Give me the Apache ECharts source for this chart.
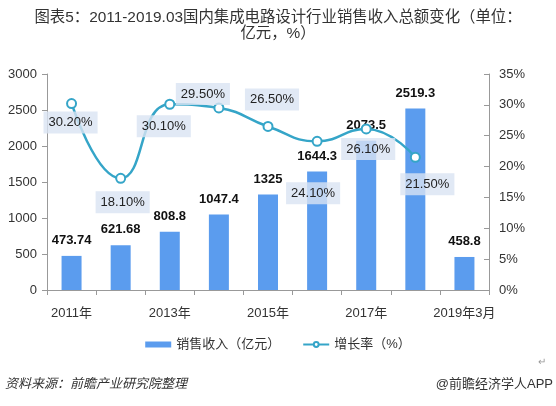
<!DOCTYPE html>
<html><head><meta charset="utf-8">
<script src="https://cdn.jsdelivr.net/npm/echarts@6/dist/echarts.min.js"></script>
<style>html,body{margin:0;padding:0;background:#fff;}#c{width:556px;height:406px;}</style>
</head><body><div id="c"></div>
<script>
var categories = ['2011年','2012年','2013年','2014年','2015年','2016年','2017年','2018年','2019年3月'];
var revenue = [473.74, 621.68, 808.8, 1047.4, 1325, 1644.3, 2073.5, 2519.3, 458.8];
var growth = [30.2, 18.1, 30.1, 29.5, 26.5, 24.1, 26.1, 21.5];
var leftTicks = [0, 500, 1000, 1500, 2000, 2500, 3000];
var rightTicks = [0, 5, 10, 15, 20, 25, 30, 35];
// label layout offsets (style only)
var rateLabelOffsets = [[-1,19],[2,24],[-6,22],[-16,-14],[4,-27],[-4,52],[2,20],[12,27]];

var FONT = '"Liberation Sans", "Noto Sans CJK SC", sans-serif';
var chart = echarts.init(document.getElementById('c'));
var rateData = growth.map(function(v, i){
  return {value: v, label: {offset: rateLabelOffsets[i]}};
});
chart.setOption({
  animation: false,
  textStyle: {fontFamily: FONT},
  grid: {left: 47, right: 67, top: 74, bottom: 116},
  legend: {
    bottom: 50, left: 'center', itemGap: 22, itemWidth: 26, itemHeight: 6,
    textStyle: {fontSize: 13, color: '#333'},
    data: [
      {name: '销售收入（亿元）', icon: 'rect'},
      {name: '增长率（%）'}
    ]
  },
  xAxis: {
    type: 'category', data: categories,
    axisLine: {lineStyle: {color: '#999'}},
    axisTick: {show: true, interval: 0, length: 5, lineStyle: {color: '#999'}},
    axisLabel: {interval: 1, fontSize: 13, color: '#333', margin: 17}
  },
  yAxis: [
    {type: 'value', min: leftTicks[0], max: leftTicks[leftTicks.length-1], interval: 500,
     axisLine: {show: true, lineStyle: {color: '#999'}},
     axisTick: {show: true, length: 5, lineStyle: {color: '#999'}},
     splitLine: {show: false},
     axisLabel: {fontSize: 13, color: '#333', margin: 10, formatter: function(v){ return String(v); }}},
    {type: 'value', min: rightTicks[0], max: rightTicks[rightTicks.length-1], interval: 5,
     axisLine: {show: true, lineStyle: {color: '#999'}},
     axisTick: {show: true, inside: true, length: 5, lineStyle: {color: '#999'}},
     splitLine: {show: false},
     axisLabel: {fontSize: 13, color: '#333', margin: 10, formatter: '{value}%'}}
  ],
  series: [
    {name: '销售收入（亿元）', type: 'bar', data: revenue, barWidth: 20,
     itemStyle: {color: '#5b9cee'},
     label: {show: true, position: 'top', distance: 9, fontSize: 13, fontWeight: 'bold', color: '#111'}},
    {name: '增长率（%）', type: 'line', yAxisIndex: 1, data: rateData, smooth: 0.5,
     symbol: 'emptyCircle', symbolSize: 9,
     lineStyle: {color: '#35a5c8', width: 2.5},
     itemStyle: {color: '#35a5c8', borderWidth: 1.5},
     label: {show: true, position: 'inside', fontSize: 13, color: '#222',
       backgroundColor: 'rgba(218,228,242,0.8)', padding: [5, 5, 4, 5],
       formatter: function(p){ return p.value.toFixed(2) + '%'; }},
     z: 3}
  ],
  graphic: [
    {type: 'text', x: 278, y: 10, style: {text: '图表5：2011-2019.03国内集成电路设计行业销售收入总额变化（单位：\n亿元，%）', align: 'center', lineHeight: 16, fill: '#333', font: '15.4px ' + FONT}},
    {type: 'text', left: 5, top: 378, style: {text: '资料来源：前瞻产业研究院整理', fill: '#333', font: 'italic 13px ' + FONT}},
    {type: 'text', right: 3, top: 378, style: {text: '@前瞻经济学人APP', fill: '#333', font: '13px ' + FONT}},
    {type: 'text', left: 538, top: 357, style: {text: '↵', fill: '#999', font: '10px ' + FONT}}
  ]
});
</script>
</body></html>
